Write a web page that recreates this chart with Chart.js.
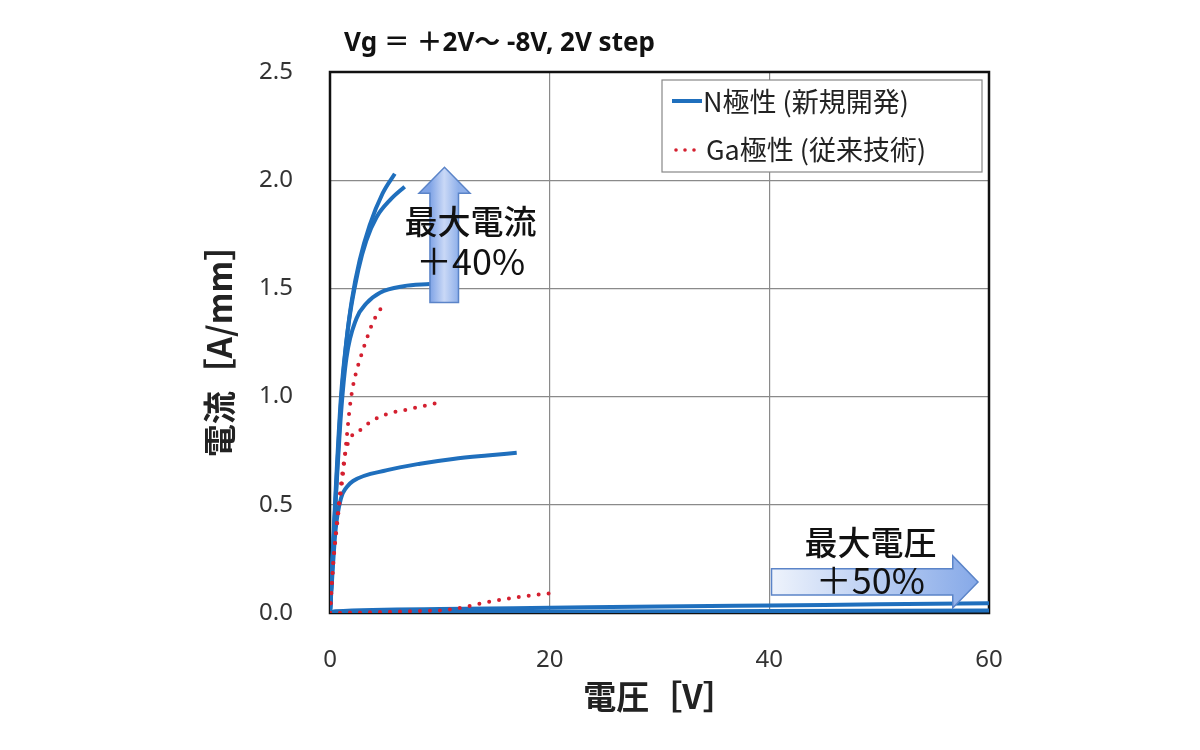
<!DOCTYPE html>
<html>
<head>
<meta charset="utf-8">
<script src="https://cdn.jsdelivr.net/npm/chart.js@4.4.1/dist/chart.umd.min.js"></script>
<style>
  html, body { margin: 0; padding: 0; background: #fff; }
  #wrap { width: 1200px; height: 750px; position: relative; }
</style>
</head>
<body>
<div id="wrap"><canvas id="ivChart" width="1200" height="750"></canvas></div>
<script>
// Id-Vd curves, Vg = +2V ~ -8V, 2V step
const nLabel = 'N極性 (新規開発)';
const gaLabel = 'Ga極性 (従来技術)';
const chartTitle = 'Vg ＝ ＋2V～ -8V, 2V step';
const xTitle = '電圧［V］';
const yTitle = '電流［A/mm］';

// N-polar (blue solid)
const n1V = [0, 0.5, 1.0, 1.5, 2.0, 2.7, 3.6, 4.8, 5.9];
const n1I = [0, 0.55, 1.0, 1.26, 1.45, 1.63, 1.79, 1.94, 2.03];
const n2V = [0, 0.5, 1.0, 1.6, 2.6, 3.3, 4.25, 5.5, 6.8];
const n2I = [0, 0.52, 0.97, 1.3, 1.59, 1.72, 1.83, 1.91, 1.97];
const n3V = [0, 0.5, 1.0, 1.5, 2.4, 3.3, 4.55, 6.7, 9.1];
const n3I = [0, 0.5, 0.92, 1.18, 1.36, 1.43, 1.48, 1.51, 1.52];
const n4V = [0, 0.5, 1.0, 1.5, 2.1, 5.2, 8.2, 11.2, 14.3, 17.0];
const n4I = [0, 0.38, 0.53, 0.58, 0.61, 0.66, 0.69, 0.712, 0.728, 0.74];
const n5V = [0, 0.5, 10, 20, 30, 40, 50, 60];
const n5I = [0, 0.008, 0.018, 0.024, 0.03, 0.035, 0.04, 0.045];
const n6V = [0, 0.5, 20, 40, 60];
const n6I = [0, 0.003, 0.006, 0.009, 0.012];

// Ga-polar (red dotted)
const g1V = [0, 0.3, 0.76, 1.2, 1.5, 1.8, 2.1, 2.9, 3.3, 3.8, 4.4, 5.0];
const g1I = [0, 0.23, 0.46, 0.65, 0.8, 0.95, 1.05, 1.2, 1.26, 1.33, 1.39, 1.43];
const g2V = [0, 0.4, 0.9, 1.4, 2.0, 2.9, 3.6, 5.2, 7.0, 8.8, 9.7];
const g2I = [0, 0.3, 0.55, 0.74, 0.82, 0.85, 0.88, 0.92, 0.94, 0.96, 0.97];
const g3V = [0, 2, 5, 8, 10.6, 12.5, 14.3, 17.3, 20.8];
const g3I = [0, 0.002, 0.005, 0.009, 0.014, 0.03, 0.05, 0.075, 0.095];

// annotation arrows (data units)
const upArrowX = [8.1, 9.1, 11.7, 12.75];   // head left, shaft left, shaft right, head right
const upArrowY = [1.435, 1.94, 2.06];        // bottom, head base, tip
const upText = ['最大電流', '＋40%'];
const rightArrowX = [40.2, 56.7, 59.0];      // start, head base, tip
const rightArrowY = [0.023, 0.083, 0.204, 0.264];
const rightText = ['最大電圧', '＋50%'];

const blue = '#1f6fbd';
const red = '#d42030';
const fontFam = '"Noto Sans", "Noto Sans CJK JP", sans-serif';
const cjkFam = '"Noto Sans CJK JP", "Noto Sans", sans-serif';

const pts = (xs, ys) => xs.map((x, i) => ({x: x, y: ys[i]}));

const nSets = [[n1V, n1I], [n2V, n2I], [n3V, n3I], [n4V, n4I], [n5V, n5I], [n6V, n6I]].map((s, i) => ({
    label: i === 0 ? nLabel : '',
    data: pts(s[0], s[1]),
    borderColor: blue,
    borderWidth: 4,
    pointRadius: 0,
    showLine: true,
    cubicInterpolationMode: 'monotone',
    order: 2
}));

const gSets = [[g1V, g1I], [g2V, g2I], [g3V, g3I]].map((s, i) => ({
    label: i === 0 ? gaLabel : '',
    data: pts(s[0], s[1]),
    borderColor: red,
    borderWidth: 4,
    borderDash: [0, 10],
    borderCapStyle: 'round',
    pointRadius: 0,
    showLine: true,
    cubicInterpolationMode: 'monotone',
    order: 1
}));

const decorations = {
    id: 'decorations',
    beforeDatasetsDraw(chart) {
        const {ctx, chartArea: a} = chart;
        ctx.save();
        ctx.strokeStyle = '#111';
        ctx.lineWidth = 2.5;
        ctx.strokeRect(a.left, a.top, a.right - a.left, a.bottom - a.top);
        ctx.restore();
    },
    afterDatasetsDraw(chart) {
        const {ctx, chartArea: a, scales: {x, y}} = chart;
        ctx.save();

        // up arrow
        const hl = x.getPixelForValue(upArrowX[0]), sl = x.getPixelForValue(upArrowX[1]);
        const sr = x.getPixelForValue(upArrowX[2]), hr = x.getPixelForValue(upArrowX[3]);
        const yb = y.getPixelForValue(upArrowY[0]), yh = y.getPixelForValue(upArrowY[1]);
        const yt = y.getPixelForValue(upArrowY[2]);
        let g = ctx.createLinearGradient(sl, 0, sr, 0);
        g.addColorStop(0, '#7fa3e6');
        g.addColorStop(0.5, '#c9d8f6');
        g.addColorStop(1, '#8fb0ea');
        ctx.beginPath();
        ctx.moveTo(sl, yb); ctx.lineTo(sl, yh); ctx.lineTo(hl, yh);
        ctx.lineTo((hl + hr) / 2, yt); ctx.lineTo(hr, yh); ctx.lineTo(sr, yh);
        ctx.lineTo(sr, yb); ctx.closePath();
        ctx.fillStyle = g; ctx.fill();
        ctx.strokeStyle = '#5b84c8'; ctx.lineWidth = 1.5; ctx.stroke();

        // right arrow
        const x0 = x.getPixelForValue(rightArrowX[0]), xh = x.getPixelForValue(rightArrowX[1]);
        const xt = x.getPixelForValue(rightArrowX[2]);
        const hb = y.getPixelForValue(rightArrowY[0]), sb = y.getPixelForValue(rightArrowY[1]);
        const st = y.getPixelForValue(rightArrowY[2]), ht = y.getPixelForValue(rightArrowY[3]);
        g = ctx.createLinearGradient(x0, 0, xt, 0);
        g.addColorStop(0, '#eef3fc');
        g.addColorStop(1, '#86a9e8');
        ctx.beginPath();
        ctx.moveTo(x0, st); ctx.lineTo(xh, st); ctx.lineTo(xh, ht);
        ctx.lineTo(xt, (hb + ht) / 2); ctx.lineTo(xh, hb); ctx.lineTo(xh, sb);
        ctx.lineTo(x0, sb); ctx.closePath();
        ctx.fillStyle = g; ctx.fill();
        ctx.strokeStyle = '#5b84c8'; ctx.lineWidth = 1.5; ctx.stroke();

        // arrow labels
        ctx.fillStyle = '#111';
        ctx.textAlign = 'center';
        ctx.textBaseline = 'middle';
        const ux = x.getPixelForValue(12.8);
        ctx.font = '500 33px ' + cjkFam;
        ctx.fillText(upText[0], ux, y.getPixelForValue(1.81));
        ctx.font = '36px ' + cjkFam;
        ctx.fillText(upText[1], ux, y.getPixelForValue(1.625));
        const rx = x.getPixelForValue(49.2);
        ctx.font = '500 33px ' + cjkFam;
        ctx.fillText(rightText[0], rx, y.getPixelForValue(0.325));
        ctx.font = '36px ' + cjkFam;
        ctx.fillText(rightText[1], rx, y.getPixelForValue(0.15));

        // legend box
        const lx = a.left + 332, ly = a.top + 8, lw = 320, lh = 92;
        ctx.fillStyle = '#fff';
        ctx.fillRect(lx, ly, lw, lh);
        ctx.strokeStyle = '#888';
        ctx.lineWidth = 1.2;
        ctx.strokeRect(lx, ly, lw, lh);
        ctx.lineWidth = 4;
        ctx.strokeStyle = blue;
        ctx.beginPath(); ctx.moveTo(lx + 10, ly + 21); ctx.lineTo(lx + 40, ly + 21); ctx.stroke();
        ctx.fillStyle = red;
        [lx + 14, lx + 23, lx + 32].forEach(cx => {
            ctx.beginPath(); ctx.arc(cx, ly + 70, 1.8, 0, Math.PI * 2); ctx.fill();
        });
        ctx.fillStyle = '#222';
        ctx.textAlign = 'left';
        ctx.font = '27px ' + cjkFam;
        ctx.fillText(nLabel, lx + 41, ly + 22);
        ctx.fillText(gaLabel, lx + 44, ly + 70);

        // title
        ctx.font = 'bold 26px ' + fontFam;
        ctx.fillStyle = '#111';
        ctx.fillText(chartTitle, a.left + 14, 44);
        ctx.restore();
    }
};

new Chart(document.getElementById('ivChart'), {
    type: 'scatter',
    data: { datasets: [...nSets, ...gSets] },
    options: {
        responsive: false,
        animation: false,
        layout: { padding: { left: 200, right: 211, top: 72, bottom: 0 } },
        plugins: { legend: { display: false }, tooltip: { enabled: false } },
        scales: {
            x: {
                type: 'linear', min: 0, max: 60,
                afterFit: s => { s.height = 137; },
                ticks: { stepSize: 20, padding: 33, color: '#333', font: { family: fontFam, size: 24 } },
                grid: { color: '#8a8a8a', lineWidth: 1.2, drawTicks: false },
                border: { display: false },
                title: { display: true, text: xTitle, color: '#222', padding: { top: 0, bottom: 34 },
                         font: { family: cjkFam, size: 33, weight: 'bold' } }
            },
            y: {
                type: 'linear', min: 0, max: 2.5,
                afterFit: s => { s.width = 130; },
                ticks: { stepSize: 0.5, padding: 37, color: '#333', font: { family: fontFam, size: 24 },
                         callback: v => v.toFixed(1) },
                grid: { color: '#8a8a8a', lineWidth: 1.2, drawTicks: false },
                border: { display: false },
                title: { display: true, text: yTitle, color: '#222', padding: { top: 0, bottom: 0 },
                         font: { family: cjkFam, size: 33, weight: 'bold' } }
            }
        }
    },
    plugins: [decorations]
});
</script>
</body>
</html>
